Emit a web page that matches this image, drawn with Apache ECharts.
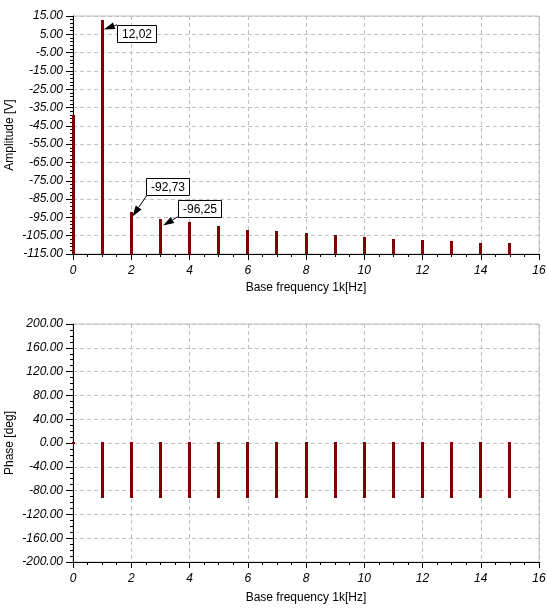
<!DOCTYPE html>
<html>
<head>
<meta charset="utf-8">
<script src="https://cdn.jsdelivr.net/npm/echarts@6/dist/echarts.min.js"></script>
<style>
html,body{margin:0;padding:0;background:#fff;}
#chart{width:547px;height:616px;}
</style>
</head>
<body>
<div id="chart"></div>
<script>
// ---- data ----
const frequency = [0, 1, 2, 3, 4, 5, 6, 7, 8, 9, 10, 11, 12, 13, 14, 15];
const amplitude = [-39.7, 12.02, -92.73, -96.25, -98.1, -100.3, -102.2, -103.1, -104.2, -105.2, -106.3, -107.1, -108.0, -108.5, -109.3, -109.8];
const phase = [0, -90, -90, -90, -90, -90, -90, -90, -90, -90, -90, -90, -90, -90, -90, -90];
const annotatedIndices = [1, 2, 3];
const ampAxis = { min: -115, max: 15, interval: 10 };
const phaseAxis = { min: -200, max: 200, interval: 40 };
const freqAxis = { min: 0, max: 16, interval: 2 };

const FONT = '"Liberation Sans", Arial, sans-serif';
const BAR = '#800000';
const GRIDC = '#c0c0c0';

const chart = echarts.init(document.getElementById('chart'), null, { renderer: 'canvas' });

function stems(xi, yi, values, base) {
  return {
    type: 'custom',
    xAxisIndex: xi,
    yAxisIndex: yi,
    z: 3,
    clip: false,
    data: values.map((v, i) => [frequency[i], v]),
    renderItem: function (params, api) {
      const x = api.value(0), v = api.value(1);
      const p1 = api.coord([x, base]);
      const p2 = api.coord([x, v]);
      const w = 3, cap = 1;
      let top = Math.min(p1[1], p2[1]) - cap;
      let bottom = Math.max(p1[1], p2[1]) + cap;
      if (base === ampAxis.min) bottom = p1[1];
      const left = Math.round(p1[0] - w / 2);
      return { type: 'rect', shape: { x: left, y: Math.round(top), width: w, height: Math.round(bottom - top) }, style: { fill: BAR } };
    }
  };
}

function xAx(gi, gap) {
  return {
    type: 'value', gridIndex: gi,
    min: freqAxis.min, max: freqAxis.max, interval: freqAxis.interval,
    name: 'Base frequency 1k[Hz]', nameLocation: 'middle', nameGap: gap, nameMoveOverlap: false,
    nameTextStyle: { fontFamily: FONT, fontSize: 12, color: '#000' },
    axisLine: { show: true, onZero: false, lineStyle: { color: '#000', width: 1 } },
    axisTick: { show: true, inside: false, length: 6, lineStyle: { color: '#000' } },
    minorTick: { show: true, splitNumber: 4, length: 3, lineStyle: { color: '#000' } },
    axisLabel: { fontFamily: FONT, fontSize: 12, fontStyle: 'italic', color: '#000', margin: 11 },
    splitLine: { show: true, lineStyle: { color: GRIDC, type: [4, 3], width: 1 } }
  };
}
function yAx(gi, ax, name, minorSplit) {
  return {
    type: 'value', gridIndex: gi,
    min: ax.min, max: ax.max, interval: ax.interval,
    name: name, nameLocation: 'middle', nameGap: 57, nameMoveOverlap: false,
    nameTextStyle: { fontFamily: FONT, fontSize: 12, color: '#000' },
    axisLine: { show: true, onZero: false, lineStyle: { color: '#000', width: 1 } },
    axisTick: { show: true, inside: false, length: 7, lineStyle: { color: '#000' } },
    minorTick: { show: true, splitNumber: minorSplit, length: 3, lineStyle: { color: '#000' } },
    axisLabel: { fontFamily: FONT, fontSize: 12, fontStyle: 'italic', color: '#000', margin: 10,
      formatter: v => v.toFixed(2) },
    splitLine: { show: true, lineStyle: { color: GRIDC, type: [4, 3], width: 1 } }
  };
}

chart.setOption({
  animation: false,
  backgroundColor: '#fff',
  grid: [
    { left: 73, top: 16, width: 466, height: 238, show: true, borderColor: GRIDC, borderWidth: 1,
      backgroundColor: 'transparent', containLabel: false, outerBoundsMode: 'none' },
    { left: 73, top: 324, width: 466, height: 238, show: true, borderColor: GRIDC, borderWidth: 1,
      backgroundColor: 'transparent', containLabel: false, outerBoundsMode: 'none' }
  ],
  xAxis: [xAx(0, 28), xAx(1, 30)],
  yAxis: [yAx(0, ampAxis, 'Amplitude [V]', 5), yAx(1, phaseAxis, 'Phase [deg]', 4)],
  series: [
    stems(0, 0, amplitude, ampAxis.min),
    stems(1, 1, phase, 0)
  ]
});

// ---- annotations (callout boxes with arrows) ----
const annotationOffsets = {
  1: { tip: [1.6, 8], tail: [15, 3.3], box: [15, 3.3] },
  2: { tip: [1.2, 3.3], tail: [15.5, -17.7], box: [14.5, -35] },
  3: { tip: [2.7, 5.9], tail: [18, -3.2], box: [17.7, -19.8] }
};
const ctx = document.createElement('canvas').getContext('2d');
ctx.font = '12px ' + FONT;
const graphics = [];
annotatedIndices.forEach(i => {
  const p = chart.convertToPixel({ xAxisIndex: 0, yAxisIndex: 0 }, [frequency[i], amplitude[i]]);
  const o = annotationOffsets[i];
  const txt = amplitude[i].toFixed(2).replace('.', ',');
  const tw = Math.round(ctx.measureText(txt).width) + 9;
  const th = 17;
  const bx = Math.round(p[0] + o.box[0]) + 0.5;
  const by = Math.round(p[1] + o.box[1]) + 0.5;
  const tip = [p[0] + o.tip[0], p[1] + o.tip[1]];
  const tail = [p[0] + o.tail[0], p[1] + o.tail[1]];
  const dx = tip[0] - tail[0], dy = tip[1] - tail[1];
  const len = Math.sqrt(dx * dx + dy * dy);
  const ux = dx / len, uy = dy / len;
  const hl = 11, hw = 3.5;
  const base = [tip[0] - ux * hl, tip[1] - uy * hl];
  graphics.push({
    type: 'line', z: 100,
    shape: { x1: tail[0], y1: tail[1], x2: base[0], y2: base[1] },
    style: { stroke: '#000', lineWidth: 1 }
  });
  graphics.push({
    type: 'polygon', z: 100,
    shape: { points: [tip, [base[0] - uy * hw, base[1] + ux * hw], [base[0] + uy * hw, base[1] - ux * hw]] },
    style: { fill: '#000' }
  });
  graphics.push({
    type: 'rect', z: 101,
    shape: { x: bx, y: by, width: tw, height: th },
    style: { fill: '#fff', stroke: '#000', lineWidth: 1 }
  });
  graphics.push({
    type: 'text', z: 102,
    style: { text: txt, x: bx + tw / 2, y: by + th / 2 + 0.5, align: 'center', verticalAlign: 'middle',
      font: '12px ' + FONT, fill: '#000' }
  });
});
chart.setOption({ graphic: graphics });
</script>
</body>
</html>
